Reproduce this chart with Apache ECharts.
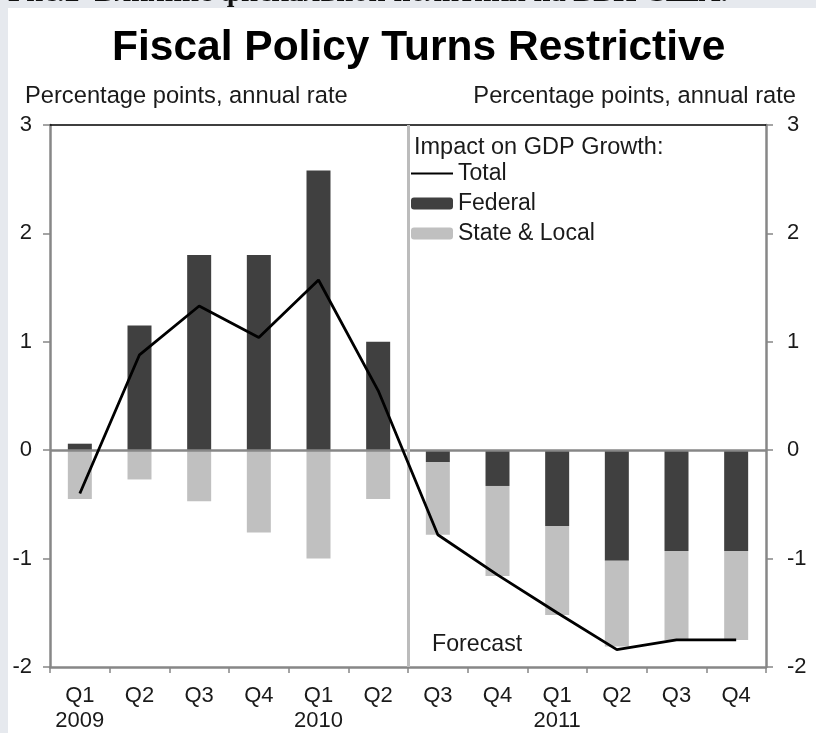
<!DOCTYPE html>
<html>
<head>
<meta charset="utf-8">
<script src="https://cdn.jsdelivr.net/npm/echarts@6/dist/echarts.min.js"></script>
<style>
  html, body { margin: 0; padding: 0; background: #e6e9ee; }
  #chart { width: 816px; height: 733px; }
</style>
</head>
<body>
<div id="chart"></div>
<script>
// quarters, 2009 Q1 .. 2011 Q4
var categories = ['2009 Q1', '2009 Q2', '2009 Q3', '2009 Q4', '2010 Q1', '2010 Q2',
  '2010 Q3', '2010 Q4', '2011 Q1', '2011 Q2', '2011 Q3', '2011 Q4'];
var federal = [0.06, 1.15, 1.80, 1.80, 2.58, 1.00, -0.11, -0.33, -0.70, -1.02, -0.93, -0.93];
var stateLocal = [-0.45, -0.27, -0.47, -0.76, -1.00, -0.45, -0.67, -0.83, -0.82, -0.79, -0.82, -0.82];
var total = [-0.40, 0.88, 1.33, 1.04, 1.57, 0.55, -0.78, -1.15, -1.50, -1.84, -1.75, -1.75];
var yTicks = [-2, -1, 0, 1, 2, 3];
var forecastStart = 6; // forecast begins with 2010 Q3

var font = '"Liberation Sans", Arial, sans-serif';
var axisGray = '#878787';

var chart = echarts.init(document.getElementById('chart'));

var yAxisBase = function (pos) {
  return {
    type: 'value',
    position: pos,
    min: yTicks[0],
    max: yTicks[yTicks.length - 1],
    interval: 1,
    axisLine: { show: true, lineStyle: { color: axisGray, width: 2.5 } },
    axisTick: { show: true, inside: false, length: 7, lineStyle: { color: axisGray, width: 1.5 } },
    axisLabel: { color: '#1a1a1a', fontSize: 22, fontFamily: font, margin: pos === 'left' ? 18 : 21 },
    splitLine: { show: false }
  };
};

var textStyle = function (size) {
  return { fontSize: size, fontWeight: 'normal', fontFamily: font, color: '#1a1a1a' };
};

var option = {
  backgroundColor: '#e6e9ee',
  animation: false,
  graphic: [
    { type: 'rect', z: -10, shape: { x: 8, y: 8, width: 808, height: 725 }, style: { fill: '#ffffff' } },
    { type: 'text', z: 10, style: { x: 8, y: 8.5, text: 'Рис.2  Влияние фискальной политики на ВВП США.',
      font: 'bold 30px "Liberation Serif", serif', fill: '#111', verticalAlign: 'bottom' } }
  ],
  title: [
    { text: 'Fiscal Policy Turns Restrictive', left: 112, top: 27, padding: 0,
      textStyle: { fontSize: 42.5, fontWeight: 'bold', fontFamily: font, color: '#000' } },
    { text: 'Percentage points, annual rate', left: 25, top: 84, padding: 0, textStyle: textStyle(23.7) },
    { text: 'Percentage points, annual rate', right: 20, top: 84, padding: 0, textStyle: textStyle(23.7) },
    { text: 'Impact on GDP Growth:', left: 414, top: 136, padding: 0, textStyle: textStyle(23.5) },
    { text: 'Forecast', left: 432, top: 633, padding: 0, textStyle: textStyle(23.2) }
  ],
  legend: {
    orient: 'vertical',
    left: 410,
    top: 162,
    padding: 0,
    itemWidth: 42,
    itemHeight: 12,
    itemGap: 7,
    data: [
      { name: 'Total', itemStyle: { color: 'rgba(0,0,0,0)', borderWidth: 0 } },
      'Federal',
      'State & Local'
    ],
    textStyle: { fontSize: 23, fontFamily: font, color: '#1a1a1a', lineHeight: 23 },
    selectedMode: false
  },
  grid: { left: 50, right: 50, top: 125, bottom: 65 },
  xAxis: [
    {
      type: 'category',
      data: categories,
      boundaryGap: true,
      axisLine: { onZero: false, lineStyle: { color: axisGray, width: 2.5 } },
      axisTick: { show: true, alignWithLabel: false, length: 6, lineStyle: { color: axisGray, width: 1.5 } },
      axisLabel: {
        interval: 0, color: '#1a1a1a', fontSize: 22, fontFamily: font, lineHeight: 25, margin: 16,
        formatter: function (v) {
          var p = v.split(' ');
          return p[1] === 'Q1' ? p[1] + '\n' + p[0] : p[1];
        }
      },
      splitLine: { show: false }
    },
    {
      type: 'category',
      data: categories,
      position: 'top',
      axisLine: { onZero: false, lineStyle: { color: '#000', width: 1.5 } },
      axisTick: { show: false },
      axisLabel: { show: false },
      splitLine: { show: false }
    },
    {
      // hidden axis in category-slot units, used for the forecast divider
      type: 'value',
      min: 0,
      max: categories.length,
      show: false
    }
  ],
  yAxis: [yAxisBase('left'), yAxisBase('right')],
  series: [
    {
      name: 'Federal',
      type: 'bar',
      stack: 'impact',
      barWidth: 24,
      itemStyle: { color: '#404040' },
      data: federal,
      markLine: {
        silent: true,
        symbol: 'none',
        label: { show: false },
        lineStyle: { color: axisGray, width: 2.5, type: 'solid' },
        data: [{ yAxis: 0 }]
      }
    },
    {
      name: 'State & Local',
      type: 'bar',
      stack: 'impact',
      barWidth: 24,
      itemStyle: { color: '#c0c0c0' },
      data: stateLocal
    },
    {
      name: 'divider',
      type: 'line',
      xAxisIndex: 2,
      z: 1,
      data: [],
      markLine: {
        silent: true,
        symbol: 'none',
        label: { show: false },
        lineStyle: { color: '#bcbcbc', width: 3, type: 'solid' },
        data: [{ xAxis: forecastStart }]
      }
    },
    {
      name: 'Total',
      type: 'line',
      z: 5,
      symbol: 'none',
      showSymbol: false,
      lineStyle: { color: '#000', width: 2.8 },
      itemStyle: { color: '#000' },
      data: total
    }
  ]
};

chart.setOption(option);
</script>
</body>
</html>
